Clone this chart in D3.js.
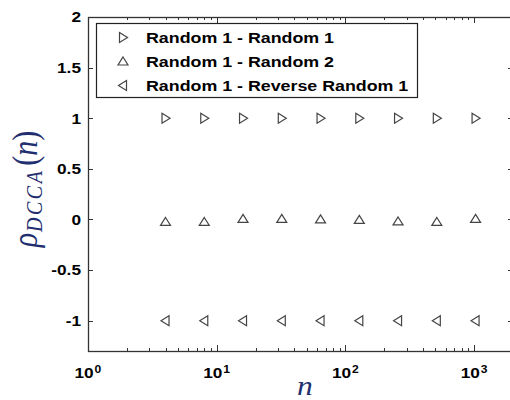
<!DOCTYPE html>
<html>
<head>
<meta charset="utf-8">
<script src="https://cdn.jsdelivr.net/npm/d3@7"></script>
<style>
  body { margin: 0; background: #fff; }
  svg { display: block; }
</style>
</head>
<body>
<div id="main"></div>
<script>
// the data
var scales = [4, 8, 16, 32, 64, 128, 256, 512, 1024];
var rhoR1R1 = [1, 1, 1, 1, 1, 1, 1, 1, 1];
var rhoR1R2 = [-0.025, -0.025, 0.005, 0.005, 0.0, -0.005, -0.02, -0.025, 0.005];
var rhoR1Rev = [-1, -1, -1, -1, -1, -1, -1, -1, -1];
var seriesNames = ["Random 1 - Random 1", "Random 1 - Random 2", "Random 1 - Reverse Random 1"];
var yTicks = [-1, -0.5, 0, 0.5, 1, 1.5, 2];
var yTickLabels = ["-1", "-0.5", "0", "0.5", "1", "1.5", "2"];
var xDecades = [1, 10, 100, 1000];
var xDecadeExp = ["0", "1", "2", "3"];

var ctx = {
    w: 510,
    h: 400,
    left: 88,
    right: 513,
    top: 17,
    bottom: 351,
    sx: 1.15,           // the original picture is stretched horizontally
    axis: "#333",
    marker: "#444",
    label: "#1f2f6f",
    sans: "'Liberation Sans', Arial, sans-serif",
    serif: "'Liberation Serif', 'Times New Roman', serif"
};

// triangle markers, centered on the point
var markerPaths = {
    right: "M-3.5,-5L4.5,0L-3.5,5Z",
    up: "M0,-4.5L5,3.5L-5,3.5Z",
    left: "M3.5,-5L-4.5,0L3.5,5Z"
};

var createChart = function(svg) {
    var x = d3.scaleLog().domain([1, 2000]).range([ctx.left, ctx.right]);
    var y = d3.scaleLinear().domain([-1.3, 2]).range([ctx.bottom, ctx.top]);

    // minor ticks of the log axis
    var minor = [];
    xDecades.forEach(function(d) {
        for (var k = 2; k <= 9; k++) {
            if (d * k <= 2000) minor.push(d * k);
        }
    });

    var ticks = svg.append("g").attr("stroke", ctx.axis).attr("stroke-width", 1);
    // x ticks, bottom and top, pointing inward
    xDecades.forEach(function(d) {
        var px = Math.round(x(d)) + 0.5;
        ticks.append("line").attr("x1", px).attr("x2", px).attr("y1", ctx.bottom).attr("y2", ctx.bottom - 6);
        ticks.append("line").attr("x1", px).attr("x2", px).attr("y1", ctx.top).attr("y2", ctx.top + 6);
    });
    minor.forEach(function(d) {
        var px = Math.round(x(d)) + 0.5;
        ticks.append("line").attr("x1", px).attr("x2", px).attr("y1", ctx.bottom).attr("y2", ctx.bottom - 3);
        ticks.append("line").attr("x1", px).attr("x2", px).attr("y1", ctx.top).attr("y2", ctx.top + 3);
    });
    // y ticks, left and right
    yTicks.forEach(function(d) {
        var py = Math.round(y(d)) + 0.5;
        ticks.append("line").attr("x1", ctx.left).attr("x2", ctx.left + 5).attr("y1", py).attr("y2", py);
        ticks.append("line").attr("x1", ctx.right).attr("x2", ctx.right - 5).attr("y1", py).attr("y2", py);
    });

    // the axes box
    svg.append("rect")
        .attr("x", ctx.left + 0.5).attr("y", ctx.top + 0.5)
        .attr("width", ctx.right - ctx.left).attr("height", ctx.bottom - ctx.top)
        .attr("fill", "none").attr("stroke", ctx.axis).attr("stroke-width", 1.3);

    // y tick labels
    svg.append("g").selectAll("text")
        .data(yTicks)
        .enter().append("text")
        .attr("transform", function(d) { return "translate(81," + (y(d) + 5.3) + ") scale(" + ctx.sx + ",1)"; })
        .attr("text-anchor", "end")
        .style("font-family", ctx.sans).style("font-weight", "bold").style("font-size", "15px")
        .text(function(d, i) { return yTickLabels[i]; });

    // x tick labels as 10^k
    var xl = svg.append("g").selectAll("g")
        .data(xDecades)
        .enter().append("g")
        .attr("transform", function(d) { return "translate(" + x(d) + ",0)"; })
        .style("font-family", ctx.sans).style("font-weight", "bold");
    xl.append("text")
        .attr("transform", "translate(-13.5,378) scale(" + ctx.sx + ",1)")
        .style("font-size", "15px")
        .text("10");
    xl.append("text")
        .attr("transform", "translate(6.5,373) scale(" + ctx.sx + ",1)")
        .style("font-size", "10.5px")
        .text(function(d, i) { return xDecadeExp[i]; });

    // the three series
    var series = [
        { values: rhoR1R1, shape: "right" },
        { values: rhoR1R2, shape: "up" },
        { values: rhoR1Rev, shape: "left" }
    ];
    series.forEach(function(s) {
        svg.append("g").selectAll("path")
            .data(scales)
            .enter().append("path")
            .attr("transform", function(d, i) { return "translate(" + x(d) + "," + y(s.values[i]) + ")"; })
            .attr("d", markerPaths[s.shape])
            .attr("fill", "none")
            .attr("stroke", ctx.marker)
            .attr("stroke-width", 1.2);
    });

    // the legend
    var legend = svg.append("g");
    legend.append("rect")
        .attr("x", 96.5).attr("y", 23.5).attr("width", 321).attr("height", 74)
        .attr("fill", "#fff").attr("stroke", "#222").attr("stroke-width", 1.2);
    var rows = legend.selectAll("g.row")
        .data(series)
        .enter().append("g")
        .attr("class", "row")
        .attr("transform", function(d, i) { return "translate(0," + (37.5 + i * 24) + ")"; });
    rows.append("path")
        .attr("transform", "translate(123,0)")
        .attr("d", function(d) { return markerPaths[d.shape]; })
        .attr("fill", "none").attr("stroke", ctx.marker).attr("stroke-width", 1.2);
    rows.append("text")
        .attr("transform", "translate(146,5.6) scale(" + ctx.sx + ",1)")
        .style("font-family", ctx.sans).style("font-weight", "bold").style("font-size", "15.5px")
        .text(function(d, i) { return seriesNames[i]; });

    // x label
    svg.append("text")
        .attr("transform", "translate(305,395) scale(1.17,1)")
        .attr("text-anchor", "middle")
        .attr("fill", ctx.label)
        .style("font-family", ctx.serif).style("font-style", "italic").style("font-size", "27px")
        .text("n");

    // y label rho_DCCA(n)
    var yl = svg.append("text")
        .attr("transform", "translate(37,189) scale(1.17,1) rotate(-90)")
        .attr("text-anchor", "middle")
        .attr("fill", ctx.label)
        .style("font-family", ctx.serif).style("font-size", "30px");
    yl.append("tspan").style("font-style", "italic").text("ρ");
    yl.append("tspan").style("font-style", "italic").style("font-size", "20px")
        .attr("dy", 4).attr("dx", 1).attr("letter-spacing", "2.5px").text("DCCA");
    yl.append("tspan").attr("dy", -4).attr("dx", 3).text("(");
    yl.append("tspan").style("font-style", "italic").text("n");
    yl.append("tspan").text(")");
};

var createViz = function() {
    var svgEl = d3.select("#main").append("svg")
        .attr("width", ctx.w)
        .attr("height", ctx.h);
    createChart(svgEl);
};

createViz();
</script>
</body>
</html>
